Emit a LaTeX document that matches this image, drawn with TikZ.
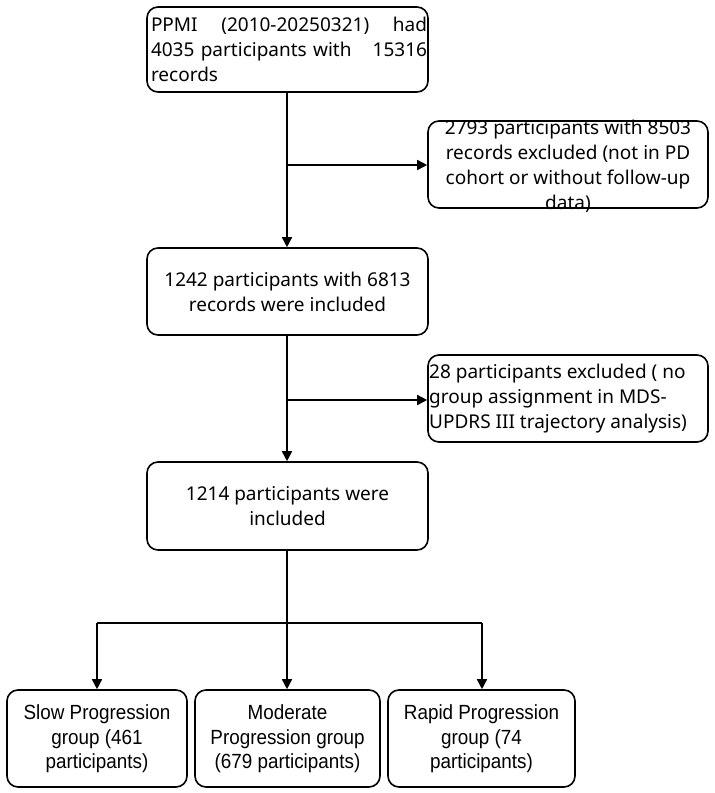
\documentclass[tikz,border=0pt]{standalone}
\usepackage{fontspec}
\setmainfont{Noto Sans}
\newfontfamily\narrowfont[FakeStretch=0.92]{Liberation Sans}
\usetikzlibrary{arrows.meta}
\begin{document}
\begin{tikzpicture}[x=1pt,y=-1pt,
  box/.style={draw, line width=1.6pt, rounded corners=11pt, inner sep=0pt},
  uptext/.style={font=\fontsize{19}{25}\selectfont, inner sep=0pt},
  lowtext/.style={font=\narrowfont\fontsize{20.5}{24.5}\selectfont, inner sep=0pt, align=center},
  conn/.style={line width=1.6pt},
  arr/.style={line width=1.6pt, -{Triangle[length=10pt,width=10pt]}}]
\useasboundingbox (0,0) rectangle (715,793);
% boxes
\node[box, minimum width=281, minimum height=85] (top) at (287.5,49.5) {};
\node[uptext, text width=276, align=left] (toptext) at (289,49) {PPMI\hfill(2010-20250321)\hfill had\\4035 participants with\hfill 15316\\records};
\node[box, minimum width=280, minimum height=87] (ex1) at (568,164.5) {};
\node[uptext, align=center] (ex1text) at (568,166) {2793 participants with 8503\\records excluded (not in PD\\cohort or without follow-up\\data)};
\node[box, minimum width=281, minimum height=87] (b2) at (287.5,291.5) {};
\node[uptext, align=center] (b2text) at (b2) {1242 participants with 6813\\records were included};
\node[box, minimum width=280, minimum height=87] (ex2) at (568,398.5) {};
\node[uptext, align=left, anchor=west] (ex2text) at (429,399) {28 participants excluded ( no\\group assignment in MDS-\\UPDRS III trajectory analysis)};
\node[box, minimum width=281, minimum height=88] (b3) at (287.5,506) {};
\node[uptext, align=center] (b3text) at (b3) {1214 participants were\\included};
\node[box, minimum width=180, minimum height=97] (ga) at (97,738.5) {};
\node[lowtext] (gatext) at (97,739) {Slow Progression\\group (461\\participants)};
\node[box, minimum width=185, minimum height=97] (gb) at (287.5,738.5) {};
\node[lowtext] (gbtext) at (287.5,739) {Moderate\\Progression group\\(679 participants)};
\node[box, minimum width=187, minimum height=97] (gc) at (481.5,738.5) {};
\node[lowtext] (gctext) at (481.5,739) {Rapid Progression\\group (74\\participants)};
% connectors
\coordinate (j1) at (287,165);
\coordinate (j2) at (287,400);
\coordinate (j3) at (287,623);
\coordinate (jl) at (97,623);
\coordinate (jr) at (482,623);
\draw[arr] (top.south -| j1) -- (b2.north -| j1);
\draw[arr] (j1) -- (j1 -| ex1.west);
\draw[arr] (b2.south -| j2) -- (b3.north -| j2);
\draw[arr] (j2) -- (j2 -| ex2.west);
\draw[arr] (b3.south -| j3) -- (gb.north -| j3);
\draw[conn] (jl) -- (jr);
\draw[arr] (jl) -- (ga.north -| jl);
\draw[arr] (jr) -- (gc.north -| jr);
\end{tikzpicture}
\end{document}
